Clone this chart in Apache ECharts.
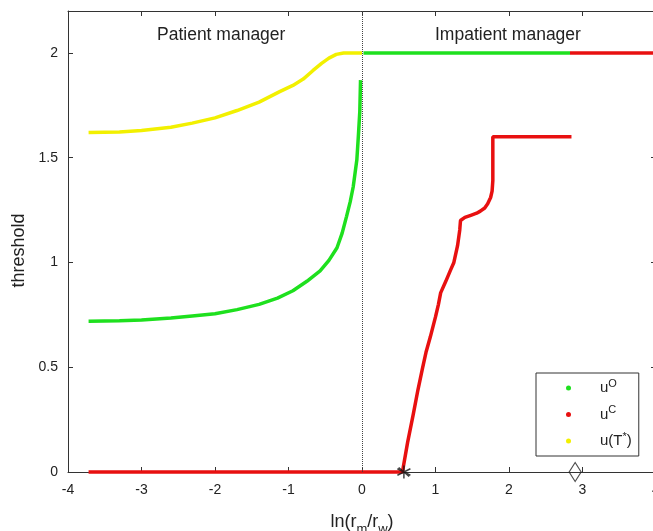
<!DOCTYPE html>
<html>
<head>
<meta charset="utf-8">
<script src="https://cdn.jsdelivr.net/npm/echarts@6/dist/echarts.min.js"></script>
<style>
html, body { margin: 0; padding: 0; background: #fff; }
#chart { width: 653px; height: 531px; }
</style>
</head>
<body>
<div id="chart"></div>
<script>
// u^O, patient side (x < 0) and the flat part at 2
var uoLeft = [[-3.72, 0.72], [-3.3, 0.722], [-3, 0.725], [-2.6, 0.735], [-2.31, 0.745], [-2, 0.755],
    [-1.7, 0.775], [-1.4, 0.80], [-1.15, 0.83], [-0.94, 0.865], [-0.75, 0.91], [-0.57, 0.96],
    [-0.45, 1.01], [-0.34, 1.07], [-0.27, 1.14], [-0.21, 1.22], [-0.16, 1.29], [-0.12, 1.36],
    [-0.07, 1.49], [-0.05, 1.6], [-0.03, 1.72], [-0.02, 1.87]];
var uoRight = [[0.02, 2], [2.83, 2]];

// u^C
var ucLow = [[-3.72, 0], [0.55, 0], [0.62, 0.14], [0.70, 0.28], [0.76, 0.39], [0.82, 0.49],
    [0.87, 0.57], [0.93, 0.645], [1.0, 0.74], [1.04, 0.80], [1.07, 0.855], [1.14, 0.91],
    [1.2, 0.96], [1.25, 1.0], [1.3, 1.08], [1.33, 1.155], [1.34, 1.2], [1.4, 1.215],
    [1.48, 1.225], [1.56, 1.235], [1.61, 1.245], [1.67, 1.26], [1.71, 1.28], [1.75, 1.31],
    [1.77, 1.34], [1.78, 1.39], [1.78, 1.6], [2.85, 1.6]];
var ucHigh = [[2.83, 2], [4, 2]];

// u(T*)
var utLeft = [[-3.72, 1.62], [-3.3, 1.623], [-3, 1.63], [-2.6, 1.645], [-2.31, 1.665], [-2, 1.69],
    [-1.7, 1.725], [-1.4, 1.765], [-1.12, 1.815], [-0.94, 1.845], [-0.8, 1.875], [-0.67, 1.915],
    [-0.55, 1.95], [-0.45, 1.975], [-0.35, 1.993], [-0.25, 2.0], [0, 2.0]];

// special points on the x axis
var starPoint = [[0.57, 0]];
var diamondPoint = [[2.9, 0]];

var regionLabels = ['Patient manager', 'Impatient manager'];
var legendNames = {uO: 'u{sup|O}', uC: 'u{sup|C}', uT: 'u(T{sup|*})'};

var colGreen = '#1ee01e', colRed = '#e81010', colYellow = '#f2f000';
var axisCol = '#333';
var fontFam = 'Liberation Sans, Arial, sans-serif';

function curve(name, data, color, extra) {
    var s = {
        name: name,
        type: 'line',
        data: data,
        showSymbol: false,
        color: color,
        lineStyle: {width: 3.5, color: color},
        itemStyle: {color: color},
        xAxisIndex: 0,
        yAxisIndex: 0
    };
    if (extra) {
        for (var k in extra) s[k] = extra[k];
    }
    return s;
}

function boxAxis(pos, mn, mx, step) {
    return {
        type: 'value', min: mn, max: mx, interval: step,
        position: pos,
        axisLine: {show: true, onZero: false, lineStyle: {color: axisCol, width: 1}},
        axisTick: {inside: true, length: 5, lineStyle: {color: axisCol}},
        axisLabel: {show: false},
        splitLine: {show: false}
    };
}

var chart = echarts.init(document.getElementById('chart'));

var option = {
    animation: false,
    backgroundColor: '#fff',
    grid: {left: 68, right: -3, top: 11, bottom: 59, containLabel: false, outerBoundsMode: 'none'},
    textStyle: {fontFamily: fontFam},
    xAxis: [{
        type: 'value', min: -4, max: 4, interval: 1,
        position: 'bottom',
        name: 'ln(r{sub|m}/r{sub|w})',
        nameLocation: 'middle',
        nameGap: 37,
        nameTextStyle: {
            color: '#222', fontSize: 18, fontFamily: fontFam,
            rich: {sub: {fontSize: 13, padding: [14, 0, 0, 0], color: '#222'}}
        },
        axisLine: {onZero: false, lineStyle: {color: axisCol, width: 1}},
        axisTick: {inside: true, length: 5, lineStyle: {color: axisCol}},
        axisLabel: {color: '#222', fontSize: 14, margin: 11, fontFamily: fontFam},
        splitLine: {show: false}
    }, boxAxis('top', -4, 4, 1)],
    yAxis: [{
        type: 'value', min: 0, max: 2.2, interval: 0.5,
        position: 'left',
        name: 'threshold',
        nameLocation: 'middle',
        nameGap: 39,
        nameTextStyle: {color: '#222', fontSize: 18, fontFamily: fontFam, padding: [0, 18, 0, 0]},
        axisLine: {show: true, onZero: false, lineStyle: {color: axisCol, width: 1}},
        axisTick: {inside: true, length: 5, lineStyle: {color: axisCol}},
        axisLabel: {color: '#222', fontSize: 14, margin: 10, showMaxLabel: false, fontFamily: fontFam},
        splitLine: {show: false}
    }, boxAxis('right', 0, 2.2, 0.5)],
    legend: {
        data: ['uO', 'uC', 'uT'],
        orient: 'vertical',
        left: 536,
        top: 373,
        padding: [5, 7, 5, 30],
        itemGap: 6.5,
        itemWidth: 5,
        itemHeight: 5,
        icon: 'circle',
        backgroundColor: '#fff',
        borderColor: axisCol,
        borderWidth: 1,
        borderRadius: 0,
        formatter: function (name) { return legendNames[name]; },
        textStyle: {
            color: '#222', fontSize: 15, lineHeight: 20, fontFamily: fontFam,
            padding: [0, 0, 0, 24],
            rich: {sup: {fontSize: 11, padding: [0, 0, 9, 0], color: '#222'}}
        }
    },
    graphic: [{
        type: 'text', left: 157, top: 26,
        style: {text: regionLabels[0], fontSize: 17.5, fill: '#222', fontFamily: fontFam}
    }, {
        type: 'text', left: 435, top: 26,
        style: {text: regionLabels[1], fontSize: 17.5, fill: '#222', fontFamily: fontFam}
    }],
    series: [
        curve('uT', utLeft, colYellow),
        curve('uO', uoLeft, colGreen, {
            markLine: {
                silent: true,
                symbol: ['none', 'none'],
                label: {show: false},
                lineStyle: {type: 'dotted', color: '#444', width: 1},
                data: [{xAxis: 0}]
            }
        }),
        curve('uO', uoRight, colGreen),
        curve('uC', ucLow, colRed, {clip: false}),
        curve('uC', ucHigh, colRed),
        {
            type: 'scatter', data: starPoint, z: 5,
            symbol: 'path://M0,-1L0,1M-0.87,-0.5L0.87,0.5M-0.87,0.5L0.87,-0.5M-0.7,-0.7L0.7,0.7',
            symbolSize: 13,
            itemStyle: {color: 'none', borderColor: '#111', borderWidth: 1.5},
            clip: false, silent: true
        },
        {
            type: 'scatter', data: diamondPoint, z: 5,
            symbol: 'diamond',
            symbolSize: [12, 19],
            itemStyle: {color: 'rgba(255,255,255,0)', borderColor: '#222', borderWidth: 1.2},
            clip: false, silent: true
        }
    ]
};

chart.setOption(option);
</script>
</body>
</html>
